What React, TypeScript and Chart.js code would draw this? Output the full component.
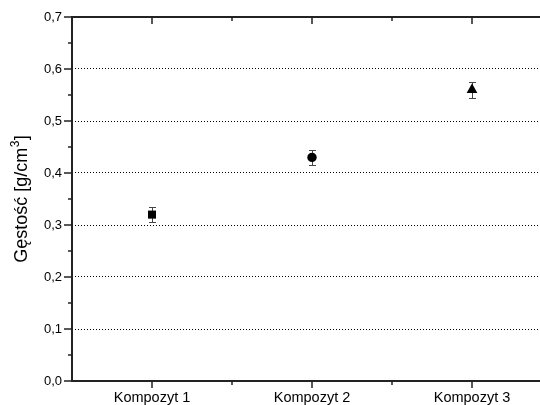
import React, { useEffect, useRef } from "react";
import { Chart, registerables } from "chart.js";

Chart.register(...registerables);

const categories = ["Kompozyt 1", "Kompozyt 2", "Kompozyt 3"];
const xPositions = [1, 2, 3];
const densities = [0.32, 0.43, 0.56];
const errors = [0.015, 0.015, 0.015];
const markerStyles = ["rect", "circle", "triangle"];
const markerRadii = [5.7, 4.7, 6.2];
const yTicks = [0, 0.1, 0.2, 0.3, 0.4, 0.5, 0.6, 0.7];
const yTitleMain = "Gęstość [g/cm";
const yTitleSup = "3";
const yTitleEnd = "]";

const FONT = "'Liberation Sans', Arial, sans-serif";

const axesPlugin = {
  id: "originAxes",
  beforeDatasetsDraw(chart: any) {
    const { ctx, scales } = chart;
    const x = scales.x;
    const y = scales.y;
    ctx.save();
    ctx.strokeStyle = "#444";
    ctx.lineWidth = 1;
    densities.forEach((v, i) => {
      const px = Math.round(x.getPixelForValue(xPositions[i])) + 0.5;
      const top = Math.round(y.getPixelForValue(v + errors[i])) + 0.5;
      const bot = Math.round(y.getPixelForValue(v - errors[i])) + 0.5;
      ctx.beginPath();
      ctx.moveTo(px, top);
      ctx.lineTo(px, bot);
      ctx.moveTo(px - 3.5, top);
      ctx.lineTo(px + 3.5, top);
      ctx.moveTo(px - 3.5, bot);
      ctx.lineTo(px + 3.5, bot);
      ctx.stroke();
    });
    ctx.restore();
  },
  afterDatasetsDraw(chart: any) {
    const { ctx, chartArea, scales } = chart;
    const x = scales.x;
    const y = scales.y;
    const L = chartArea.left;
    const B = chartArea.bottom;
    const T = chartArea.top;
    const R = chart.width;
    ctx.save();
    ctx.strokeStyle = "#222";
    ctx.lineWidth = 2;
    ctx.beginPath();
    ctx.moveTo(L, T);
    ctx.lineTo(L, B);
    ctx.moveTo(L - 1, B);
    ctx.lineTo(R, B);
    ctx.moveTo(L - 1, T);
    ctx.lineTo(R, T);
    ctx.stroke();
    ctx.lineWidth = 1.5;
    ctx.beginPath();
    for (let i = 0; i <= 14; i++) {
      const v = i * 0.05;
      const py = y.getPixelForValue(v);
      const len = i % 2 === 0 ? 8 : 4;
      ctx.moveTo(L - len, py);
      ctx.lineTo(L, py);
    }
    for (let v = 1; v <= 3.5; v += 0.5) {
      const px = x.getPixelForValue(v);
      if (px > R) continue;
      const major = Number.isInteger(v);
      const len = major ? 7 : 4;
      ctx.moveTo(px, B);
      ctx.lineTo(px, B + len);
      ctx.moveTo(px, T);
      ctx.lineTo(px, T + len);
    }
    ctx.stroke();
    // y title with superscript
    ctx.fillStyle = "#000";
    const mainFont = "18px " + FONT;
    const supFont = "12px " + FONT;
    ctx.font = mainFont;
    const w1 = ctx.measureText(yTitleMain).width;
    const w3 = ctx.measureText(yTitleEnd).width;
    ctx.font = supFont;
    const w2 = ctx.measureText(yTitleSup).width + 1;
    const total = w1 + w2 + w3;
    ctx.translate(27, (T + B) / 2);
    ctx.rotate(-Math.PI / 2);
    ctx.textAlign = "left";
    ctx.textBaseline = "alphabetic";
    let cx = -total / 2;
    ctx.font = mainFont;
    ctx.fillText(yTitleMain, cx, 0);
    cx += w1;
    ctx.font = supFont;
    ctx.fillText(yTitleSup, cx + 0.5, -8);
    cx += w2;
    ctx.font = mainFont;
    ctx.fillText(yTitleEnd, cx, 0);
    ctx.restore();
  },
};

export default function App() {
  const ref = useRef<HTMLCanvasElement>(null);
  useEffect(() => {
    document.body.style.margin = "0";
    const chart = new Chart(ref.current as HTMLCanvasElement, {
      type: "scatter",
      data: {
        datasets: [
          {
            data: densities.map((v, i) => ({ x: xPositions[i], y: v })),
            pointStyle: markerStyles as any,
            pointRadius: markerRadii,
            pointBackgroundColor: "#000",
            pointBorderColor: "#000",
            pointBorderWidth: 0,
            showLine: false,
          },
        ],
      },
      plugins: [axesPlugin],
      options: {
        animation: false,
        responsive: false,
        events: [],
        layout: { autoPadding: false, padding: { top: 17, right: 0, left: 0, bottom: 0 } },
        plugins: { legend: { display: false }, tooltip: { enabled: false } },
        scales: {
          x: {
            type: "linear",
            min: 0.5,
            max: 0.5 + 468 / 160,
            afterFit: (s: any) => {
              s.height = 24;
              s.paddingLeft = 0;
              s.paddingRight = 0;
            },
            afterBuildTicks: (s: any) => {
              s.ticks = xPositions.map((v) => ({ value: v }));
            },
            ticks: {
              callback: (v: any) => categories[xPositions.indexOf(Number(v))] ?? "",
              font: { family: FONT, size: 14.5 },
              color: "#000",
              padding: 8,
              maxRotation: 0,
              autoSkip: false,
            },
            grid: { display: false, drawTicks: false },
            border: { display: false },
          },
          y: {
            type: "linear",
            min: 0,
            max: 0.7,
            afterFit: (s: any) => {
              s.width = 72;
              s.paddingTop = 0;
              s.paddingBottom = 0;
            },
            afterBuildTicks: (s: any) => {
              s.ticks = yTicks.map((v) => ({ value: v }));
            },
            ticks: {
              callback: (v: any) => Number(v).toFixed(1).replace(".", ","),
              font: { family: FONT, size: 13 },
              color: "#000",
              padding: 10,
            },
            grid: {
              drawTicks: false,
              color: (c: any) =>
                c.tick && c.tick.value > 0.05 && c.tick.value < 0.65 ? "#000" : "rgba(0,0,0,0)",
              lineWidth: 1,
            },
            border: { display: false, dash: [1, 2] },
          },
        },
      } as any,
    });
    return () => chart.destroy();
  }, []);
  return <canvas ref={ref} width={540} height={405} style={{ display: "block" }} />;
}
